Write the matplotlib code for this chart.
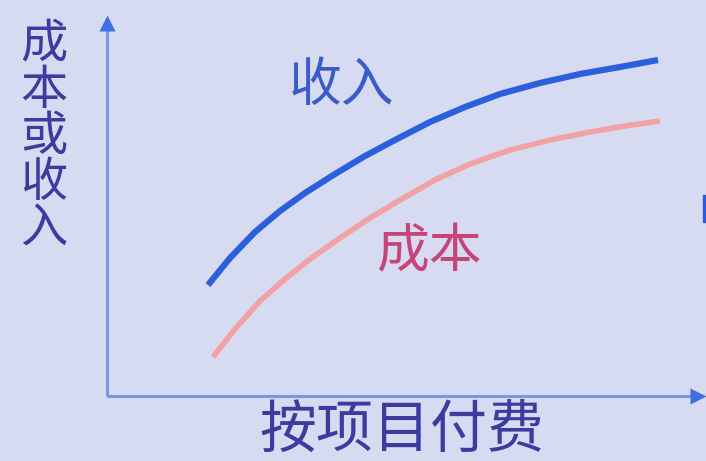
import matplotlib
matplotlib.use("Agg")
import matplotlib.pyplot as plt
from matplotlib.patches import Rectangle

plt.rcParams['font.family'] = ['Noto Sans CJK SC', 'DejaVu Sans']

# Data (abstract units)
revenue_x = [101, 123, 148, 173, 198, 228, 258, 288, 323, 358, 393, 433, 473, 513, 551]
revenue_y = [111, 138, 164, 185, 203, 222, 240, 256, 274, 289, 302, 313, 322, 329, 336]
cost_x = [106, 128, 153, 178, 203, 233, 263, 293, 328, 363, 403, 443, 483, 518, 553]
cost_y = [39, 67, 95, 117, 137, 158, 178, 196, 216, 232, 246, 256, 264, 270, 275]

y_label = "成本或收入"
x_label = "按项目付费"
revenue_label = "收入"
cost_label = "成本"

BG = '#d6dbf2'
AXIS = '#7d95dd'
BLUE = '#2c5fdc'
PINK = '#f2a2a4'
TEXT = '#3b3c9e'

W, H = 706, 461
fig = plt.figure(figsize=(W / 100, H / 100), dpi=100, facecolor=BG)

left, bottom = 107 / W, (H - 396) / H
ax = fig.add_axes([left, bottom, 598 / W, 381 / H])
ax.set_facecolor(BG)
ax.set_xlim(0, 598)
ax.set_ylim(0, 381)
for s in ax.spines.values():
    s.set_visible(False)
ax.set_xticks([])
ax.set_yticks([])

# axes with arrows
ax.plot([0, 590], [0, 0], color=AXIS, lw=2.2, clip_on=False, solid_capstyle='butt')
ax.plot([0, 0], [0, 372], color=AXIS, lw=2.2, clip_on=False, solid_capstyle='butt')
ax.plot([591], [0], marker='>', color='#3f6fe0', markersize=11, clip_on=False, mec='none')
ax.plot([0], [373], marker='^', color='#3f6fe0', markersize=11, clip_on=False, mec='none')

ax.plot(revenue_x, revenue_y, color=BLUE, lw=4.5, solid_capstyle='butt', solid_joinstyle='round')
ax.plot(cost_x, cost_y, color=PINK, lw=4.0, solid_capstyle='butt', solid_joinstyle='round')

# labels
ax.text(235, 311, revenue_label, color='#3a5cc8', fontsize=38, ha='center', va='center')
ax.text(322, 144, cost_label, color='#c5457a', fontsize=38, ha='center', va='center')

ys = [45, 91, 137, 183, 229]
for ch, yy in zip(y_label, ys):
    fig.text(44 / W, 1 - yy / H, ch, color=TEXT, fontsize=34, ha='center', va='center')

fig.text(402 / W, 1 - 431 / H, x_label, color=TEXT, fontsize=41, ha='center', va='center')

# partial blue mark at right edge
fig.patches.append(Rectangle((703 / W, 1 - 222 / H), 4 / W, 27 / H,
                             transform=fig.transFigure, color='#2a5be0'))

fig.savefig('out.png', dpi=100, facecolor=BG)
